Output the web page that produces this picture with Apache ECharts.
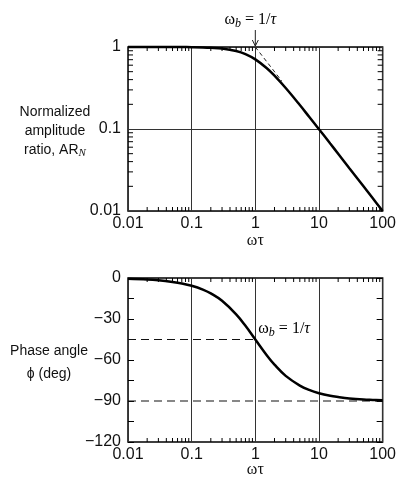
<!DOCTYPE html>
<html>
<head>
<meta charset="utf-8">
<script src="https://cdn.jsdelivr.net/npm/echarts@6/dist/echarts.min.js"></script>
<style>
  html, body { margin: 0; padding: 0; background: #fff; }
  #chart { width: 399px; height: 478px; }
</style>
</head>
<body>
<div id="chart"></div>
<script>
// amplitude ratio curve
const wtAmp = [0.01, 0.02, 0.03, 0.05, 0.07, 0.1, 0.15, 0.2, 0.3, 0.5, 0.7, 1, 1.5, 2, 3, 5, 7, 10, 15, 20, 30, 50, 70, 100];
const ampRatio = [1, 1, 1, 0.999, 0.998, 0.995, 0.989, 0.98, 0.958, 0.894, 0.82, 0.707, 0.555, 0.447, 0.316, 0.196, 0.141, 0.0995, 0.0665, 0.05, 0.0333, 0.02, 0.0143, 0.01];

// phase angle curve
const wtPhase = [0.01, 0.02, 0.03, 0.05, 0.07, 0.1, 0.15, 0.2, 0.3, 0.5, 0.7, 1, 1.5, 2, 3, 5, 7, 10, 15, 20, 30, 50, 70, 100];
const phaseDeg = [-0.6, -1.1, -1.7, -2.9, -4, -5.7, -8.5, -11.3, -16.7, -26.6, -35, -45, -56.3, -63.4, -71.6, -78.7, -81.9, -84.3, -86.2, -87.1, -88.1, -88.9, -89.2, -89.5];

// dashed helper lines
const asymWt = [1, 2.6];
const asymAmp = [1, 0.385];
const ref45Wt = [0.01, 1];
const ref45Deg = [-45, -45];
const ref90Wt = [0.01, 100];
const ref90Deg = [-90, -90];

// tick labels
const xTickLabels = ['0.01', '0.1', '1', '10', '100'];
const ampTickLabels = ['0.01', '0.1', '1'];
const phaseTickLabels = ['\u2212120', '\u221290', '\u221260', '\u221230', '0'];

// minor tick positions on the log axes
const minorX = [0.02, 0.03, 0.04, 0.05, 0.06, 0.07, 0.08, 0.09,
  0.2, 0.3, 0.4, 0.5, 0.6, 0.7, 0.8, 0.9,
  2, 3, 4, 5, 6, 7, 8, 9,
  20, 30, 40, 50, 60, 70, 80, 90];
const minorAmp = [0.02, 0.03, 0.04, 0.05, 0.06, 0.07, 0.08, 0.09,
  0.2, 0.3, 0.4, 0.5, 0.6, 0.7, 0.8, 0.9];

const sans = 'Liberation Sans';
const serif = 'Liberation Serif';

const chart = echarts.init(document.getElementById('chart'));

// short inward ticks on both edges of the plot box
function xTicks(yLo, yHi) {
  return function (params, api) {
    const x = api.value(0);
    const b = api.coord([x, yLo]);
    const t = api.coord([x, yHi]);
    return {
      type: 'group',
      children: [
        { type: 'line', shape: { x1: b[0], y1: b[1], x2: b[0], y2: b[1] - 4 }, style: { stroke: '#000', lineWidth: 1 } },
        { type: 'line', shape: { x1: t[0], y1: t[1], x2: t[0], y2: t[1] + 4 }, style: { stroke: '#000', lineWidth: 1 } }
      ]
    };
  };
}
function yTicks(xLo, xHi) {
  return function (params, api) {
    const y = api.value(1);
    const l = api.coord([xLo, y]);
    const r = api.coord([xHi, y]);
    return {
      type: 'group',
      children: [
        { type: 'line', shape: { x1: l[0], y1: l[1], x2: l[0] + 5, y2: l[1] }, style: { stroke: '#000', lineWidth: 1 } },
        { type: 'line', shape: { x1: r[0], y1: r[1], x2: r[0] - 5, y2: r[1] }, style: { stroke: '#000', lineWidth: 1 } }
      ]
    };
  };
}

const logX = (gridIndex) => ({
  type: 'log',
  logBase: 10,
  gridIndex: gridIndex,
  min: 0.01,
  max: 100,
  axisLine: { show: false },
  axisTick: { show: false },
  splitLine: { show: true, lineStyle: { color: '#333', width: 1 } },
  axisLabel: {
    margin: 5,
    fontFamily: sans,
    fontSize: 16,
    color: '#111',
    formatter: (v) => xTickLabels[Math.round(Math.log10(v)) + 2]
  }
});

const option = {
  animation: false,
  grid: [
    { left: 128, top: 47, width: 256, height: 164, show: true, borderColor: '#000', borderWidth: 1.5, backgroundColor: 'transparent' },
    { left: 128, top: 278, width: 255, height: 164, show: true, borderColor: '#000', borderWidth: 1.5, backgroundColor: 'transparent' }
  ],
  xAxis: [logX(0), logX(1)],
  yAxis: [
    {
      type: 'log',
      logBase: 10,
      gridIndex: 0,
      min: 0.01,
      max: 1,
      axisLine: { show: false },
      axisTick: { show: false },
      splitLine: { show: true, lineStyle: { color: '#333', width: 1 } },
      axisLabel: {
        margin: 7,
        fontFamily: sans,
        fontSize: 16,
        color: '#111',
        formatter: (v) => ampTickLabels[Math.round(Math.log10(v)) + 2]
      }
    },
    {
      type: 'value',
      gridIndex: 1,
      min: -120,
      max: 0,
      interval: 30,
      axisLine: { show: false },
      axisTick: { show: true, inside: true, length: 6, lineStyle: { color: '#000' } },
      minorTick: { show: true, splitNumber: 2, length: 6, lineStyle: { color: '#000' } },
      splitLine: { show: false },
      axisLabel: {
        margin: 7,
        fontFamily: sans,
        fontSize: 16,
        color: '#111',
        formatter: (v) => phaseTickLabels[Math.round(v / 30) + 4]
      }
    },
    {
      type: 'value',
      gridIndex: 1,
      position: 'right',
      min: -120,
      max: 0,
      interval: 30,
      axisLine: { show: false },
      axisTick: { show: true, inside: true, length: 6, lineStyle: { color: '#000' } },
      minorTick: { show: true, splitNumber: 2, length: 6, lineStyle: { color: '#000' } },
      splitLine: { show: false },
      axisLabel: { show: false }
    }
  ],
  series: [
    {
      type: 'custom', xAxisIndex: 0, yAxisIndex: 0, clip: false, silent: true,
      renderItem: xTicks(0.01, 1),
      data: minorX.map((v) => [v, 0.1])
    },
    {
      type: 'custom', xAxisIndex: 0, yAxisIndex: 0, clip: false, silent: true,
      renderItem: yTicks(0.01, 100),
      data: minorAmp.map((v) => [1, v])
    },
    {
      type: 'custom', xAxisIndex: 1, yAxisIndex: 1, clip: false, silent: true,
      renderItem: xTicks(-120, 0),
      data: minorX.map((v) => [v, -60])
    },
    {
      name: 'asymptote', type: 'line', xAxisIndex: 0, yAxisIndex: 0,
      data: asymWt.map((x, i) => [x, asymAmp[i]]),
      showSymbol: false, silent: true,
      lineStyle: { color: '#222', width: 1, type: [4, 3] }
    },
    {
      name: 'AR_N', type: 'line', xAxisIndex: 0, yAxisIndex: 0,
      data: wtAmp.map((x, i) => [x, ampRatio[i]]),
      smooth: 0.4, showSymbol: false, clip: false,
      lineStyle: { color: '#000', width: 2.5 }
    },
    {
      name: '-45', type: 'line', xAxisIndex: 1, yAxisIndex: 1,
      data: ref45Wt.map((x, i) => [x, ref45Deg[i]]),
      showSymbol: false, silent: true,
      lineStyle: { color: '#111', width: 1.1, type: [8, 5] }
    },
    {
      name: '-90', type: 'line', xAxisIndex: 1, yAxisIndex: 1,
      data: ref90Wt.map((x, i) => [x, ref90Deg[i]]),
      showSymbol: false, silent: true,
      lineStyle: { color: '#111', width: 1.1, type: [8, 5] }
    },
    {
      name: 'phi', type: 'line', xAxisIndex: 1, yAxisIndex: 1,
      data: wtPhase.map((x, i) => [x, phaseDeg[i]]),
      smooth: 0.4, showSymbol: false, clip: false,
      lineStyle: { color: '#000', width: 2.5 }
    }
  ]
};
chart.setOption(option);

// annotations placed from the axes' own pixel mapping
const cornerTop = chart.convertToPixel({ gridIndex: 0 }, [1, 1]);
const cornerMid = chart.convertToPixel({ gridIndex: 1 }, [1, -30]);
const xNameTop = chart.convertToPixel({ gridIndex: 0 }, [1, 0.01]);
const xNameBot = chart.convertToPixel({ gridIndex: 1 }, [1, -120]);

const omegaRich = {
  a: { fontFamily: serif, fontSize: 16, color: '#111' },
  s: { fontFamily: serif, fontSize: 12, fontStyle: 'italic', color: '#111', padding: [7, 0, 0, 0] },
  t: { fontFamily: serif, fontSize: 16, fontStyle: 'italic', color: '#111' }
};

chart.setOption({
  graphic: [
    {
      type: 'text',
      x: cornerTop[0] - 5, y: 20,
      style: { text: '{a|\u03c9}{s|b}{a| = 1/}{t|\u03c4}', rich: omegaRich, align: 'center', verticalAlign: 'middle' }
    },
    {
      type: 'line',
      shape: { x1: cornerTop[0], y1: 30, x2: cornerTop[0], y2: cornerTop[1] - 1 },
      style: { stroke: '#222', lineWidth: 1 }
    },
    {
      type: 'polyline',
      shape: { points: [[cornerTop[0] - 3, cornerTop[1] - 7], [cornerTop[0], cornerTop[1] - 1], [cornerTop[0] + 3, cornerTop[1] - 7]] },
      style: { stroke: '#222', lineWidth: 1, fill: null }
    },
    {
      type: 'text',
      x: cornerMid[0] + 3, y: cornerMid[1] + 10,
      style: { text: '{a|\u03c9}{s|b}{a| = 1/}{t|\u03c4}', rich: omegaRich, align: 'left', verticalAlign: 'middle' }
    },
    {
      type: 'text',
      x: xNameTop[0], y: xNameTop[1] + 30,
      style: { text: '\u03c9\u03c4', fontFamily: serif, fontSize: 16, fill: '#111', align: 'center', verticalAlign: 'middle' }
    },
    {
      type: 'text',
      x: xNameBot[0], y: xNameBot[1] + 28,
      style: { text: '\u03c9\u03c4', fontFamily: serif, fontSize: 16, fill: '#111', align: 'center', verticalAlign: 'middle' }
    },
    {
      type: 'text',
      x: 55, y: 131,
      style: {
        text: 'Normalized\namplitude\n{n|ratio, AR}{sub|N}',
        fontFamily: sans, fontSize: 14, fill: '#111', lineHeight: 19,
        align: 'center', verticalAlign: 'middle',
        rich: {
          n: { fontFamily: sans, fontSize: 14, color: '#111', lineHeight: 19 },
          sub: { fontFamily: serif, fontSize: 11, fontStyle: 'italic', color: '#111', lineHeight: 19, padding: [7, 0, 0, 0] }
        }
      }
    },
    {
      type: 'text',
      x: 49, y: 363,
      style: {
        text: 'Phase angle\n\u03d5 (deg)',
        fontFamily: sans, fontSize: 14, fill: '#111', lineHeight: 23,
        align: 'center', verticalAlign: 'middle'
      }
    }
  ]
});
</script>
</body>
</html>
